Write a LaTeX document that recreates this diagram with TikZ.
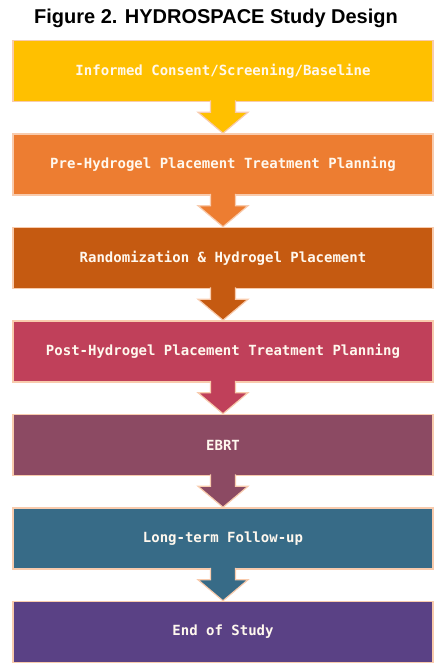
\documentclass[tikz,border=0pt]{standalone}
\usepackage{fontspec}
\setmainfont{Liberation Sans}
\newfontfamily\boxfont{DejaVu Sans Mono}
\usetikzlibrary{calc}
\definecolor{cA}{HTML}{FFC000}
\definecolor{cB}{HTML}{ED7D31}
\definecolor{cC}{HTML}{C55A11}
\definecolor{cD}{HTML}{C0405A}
\definecolor{cE}{HTML}{8C4A63}
\definecolor{cF}{HTML}{376B87}
\definecolor{cG}{HTML}{5A4185}
\definecolor{peach}{HTML}{F8CBAD}
\definecolor{txt}{HTML}{FFF8EE}
\tikzset{
  stagebox/.style={draw=peach, line width=1.5pt, minimum width=420pt, minimum height=61pt,
    inner sep=0pt, text=txt, font=\boxfont\bfseries\fontsize{14}{16}\selectfont},
  flowarrow/.style={draw=peach, line width=1.2pt, line join=miter},
}
\newcommand\stagearrow[3]{%
  \draw[flowarrow, fill=#3]
    ($(#1.south)+(-12.5,2)$) -- ($(#1.south)+(-12.5,-10)$) -- ($(#1.south)+(-25,-10)$)
    -- (#2.north) -- ($(#1.south)+(25,-10)$) -- ($(#1.south)+(12.5,-10)$)
    -- ($(#1.south)+(12.5,2)$);}
\begin{document}
\begin{tikzpicture}[x=1pt,y=1pt]
\useasboundingbox (0,0) rectangle (446,-670);
\node[anchor=base, font=\bfseries\fontsize{20}{24}\selectfont] (title) at (216,-23.5) {Figure 2. HYDROSPACE Study Design};
\node[stagebox, fill=cA] (s1) at (223,-71) {Informed Consent/Screening/Baseline};
\node[stagebox, fill=cB] (s2) at (223,-164.5) {Pre-Hydrogel Placement Treatment Planning};
\node[stagebox, fill=cC] (s3) at (223,-258) {Randomization \& Hydrogel Placement};
\node[stagebox, fill=cD] (s4) at (223,-351.5) {Post-Hydrogel Placement Treatment Planning};
\node[stagebox, fill=cE] (s5) at (223,-445) {EBRT};
\node[stagebox, fill=cF] (s6) at (223,-538.5) {Long-term Follow-up};
\node[stagebox, fill=cG] (s7) at (223,-632) {End of Study};
\stagearrow{s1}{s2}{cA}
\stagearrow{s2}{s3}{cB}
\stagearrow{s3}{s4}{cC}
\stagearrow{s4}{s5}{cD}
\stagearrow{s5}{s6}{cE}
\stagearrow{s6}{s7}{cF}
\end{tikzpicture}
\end{document}
